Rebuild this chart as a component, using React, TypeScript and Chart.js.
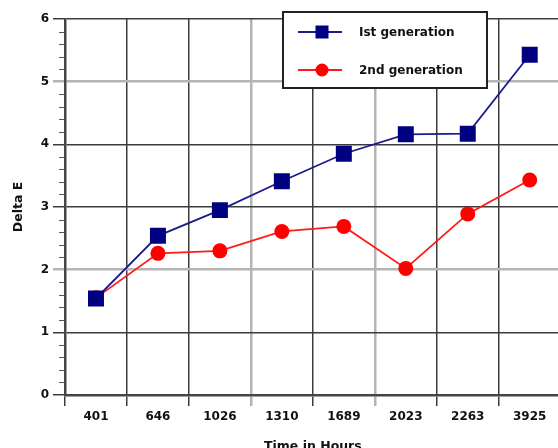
import { useEffect, useRef } from 'react';
import { Chart, registerables } from 'chart.js';

Chart.register(...registerables);

const categories = ['401', '646', '1026', '1310', '1689', '2023', '2263', '3925'];
const firstGeneration = [1.54, 2.54, 2.95, 3.41, 3.85, 4.16, 4.17, 5.43];
const secondGeneration = [1.55, 2.26, 2.3, 2.61, 2.69, 2.02, 2.89, 3.43];
const seriesLabels = ['Ist generation', '2nd generation'];
const yMin = 0;
const yMax = 6;
const yStep = 1;
const yMinorStep = 0.2;
const xTitle = 'Time in Hours';
const yTitle = 'Delta E';

const grayY = [2, 5];
const grayX = [3, 5];

const FONT = "'DejaVu Sans', sans-serif";
const DARK = '#3c3c3c';
const GRAY = '#b4b4b4';

const minorTicksPlugin = {
  id: 'minorTicks',
  afterDraw(chart: any) {
    const y = chart.scales.y;
    const ctx = chart.ctx;
    const left = chart.chartArea.left;
    ctx.save();
    ctx.strokeStyle = '#555';
    ctx.lineWidth = 1;
    const n = Math.round((yMax - yMin) / yMinorStep);
    for (let i = 0; i <= n; i++) {
      const v = yMin + i * yMinorStep;
      if (Math.abs(v - Math.round(v)) < 1e-6) continue;
      const py = Math.round(y.getPixelForValue(v)) + 0.5;
      ctx.beginPath();
      ctx.moveTo(left - 6, py);
      ctx.lineTo(left, py);
      ctx.stroke();
    }
    ctx.restore();
  },
};

const legendPlugin = {
  id: 'boxLegend',
  afterDraw(chart: any) {
    const ctx = chart.ctx;
    const bx = 283, by = 12, bw = 204, bh = 76;
    ctx.save();
    ctx.fillStyle = '#ffffff';
    ctx.fillRect(bx, by, bw, bh);
    ctx.strokeStyle = '#222';
    ctx.lineWidth = 2;
    ctx.strokeRect(bx, by, bw, bh);
    const rows = [32, 70];
    chart.data.datasets.forEach((ds: any, i: number) => {
      const ry = rows[i];
      ctx.strokeStyle = ds.borderColor;
      ctx.lineWidth = ds.borderWidth;
      ctx.beginPath();
      ctx.moveTo(298, ry);
      ctx.lineTo(342, ry);
      ctx.stroke();
      ctx.fillStyle = ds.pointBackgroundColor;
      if (ds.pointStyle === 'rect') {
        ctx.fillRect(322 - 6.5, ry - 6.5, 13, 13);
      } else {
        ctx.beginPath();
        ctx.arc(322, ry, 6.5, 0, Math.PI * 2);
        ctx.fill();
      }
      ctx.fillStyle = '#111';
      ctx.font = `bold 12px ${FONT}`;
      ctx.textBaseline = 'middle';
      ctx.textAlign = 'left';
      ctx.fillText(ds.label, 359, ry + 1);
    });
    ctx.restore();
  },
};

export default function App() {
  const ref = useRef<HTMLCanvasElement>(null);

  useEffect(() => {
    if (!ref.current) return;
    const chart = new Chart(ref.current, {
      type: 'line',
      data: {
        labels: categories,
        datasets: [
          {
            label: seriesLabels[0],
            data: firstGeneration,
            borderColor: '#1c1c8c',
            backgroundColor: '#000080',
            pointBackgroundColor: '#000080',
            pointBorderColor: '#000080',
            pointStyle: 'rect',
            pointRadius: 11.3,
            pointBorderWidth: 0,
            borderWidth: 1.8,
          },
          {
            label: seriesLabels[1],
            data: secondGeneration,
            borderColor: '#ff1a1a',
            backgroundColor: '#ff0000',
            pointBackgroundColor: '#ff0000',
            pointBorderColor: '#ff0000',
            pointStyle: 'circle',
            pointRadius: 7.5,
            pointBorderWidth: 0,
            borderWidth: 1.8,
          },
        ],
      },
      options: {
        animation: false,
        responsive: false,
        devicePixelRatio: 1,
        layout: { padding: { left: 0, top: 19, right: 6, bottom: 0 } },
        plugins: {
          legend: { display: false },
          tooltip: { enabled: false },
        },
        scales: {
          x: {
            type: 'category',
            offset: true,
            afterFit(scale: any) {
              scale.height = 61;
            },
            grid: {
              offset: true,
              tickLength: 11,
              color: (c: any) => (grayX.includes(c.index) ? GRAY : DARK),
              lineWidth: (c: any) => (grayX.includes(c.index) ? 2.5 : 1.5),
            },
            border: { color: '#454545', width: 2.5 },
            ticks: {
              color: '#111',
              padding: 4,
              maxRotation: 0,
              font: { family: FONT, weight: 'bold', size: 12 },
            },
            title: {
              display: true,
              text: xTitle,
              color: '#111',
              font: { family: FONT, weight: 'bold', size: 12.5 },
              padding: { top: 0, bottom: 1.5 },
            },
          },
          y: {
            min: yMin,
            max: yMax,
            afterFit(scale: any) {
              scale.width = 65;
            },
            grid: {
              tickLength: 12,
              color: (c: any) => (c.tick && grayY.includes(c.tick.value) ? GRAY : DARK),
              lineWidth: (c: any) => (c.tick && grayY.includes(c.tick.value) ? 2.5 : 1.5),
            },
            border: { color: '#454545', width: 2.5 },
            ticks: {
              stepSize: yStep,
              color: '#111',
              padding: 4,
              font: { family: FONT, weight: 'bold', size: 12 },
            },
            title: {
              display: true,
              text: yTitle,
              color: '#111',
              font: { family: FONT, weight: 'bold', size: 12.5 },
              padding: { top: 11, bottom: 0 },
            },
          },
        },
      },
      plugins: [minorTicksPlugin, legendPlugin],
    } as any);
    return () => chart.destroy();
  }, []);

  return (
    <div
      style={{
        position: 'fixed',
        left: 0,
        top: 0,
        width: 558,
        height: 448,
        overflow: 'hidden',
        background: '#fff',
      }}
    >
      <canvas ref={ref} width={572} height={456} style={{ display: 'block' }} />
    </div>
  );
}
